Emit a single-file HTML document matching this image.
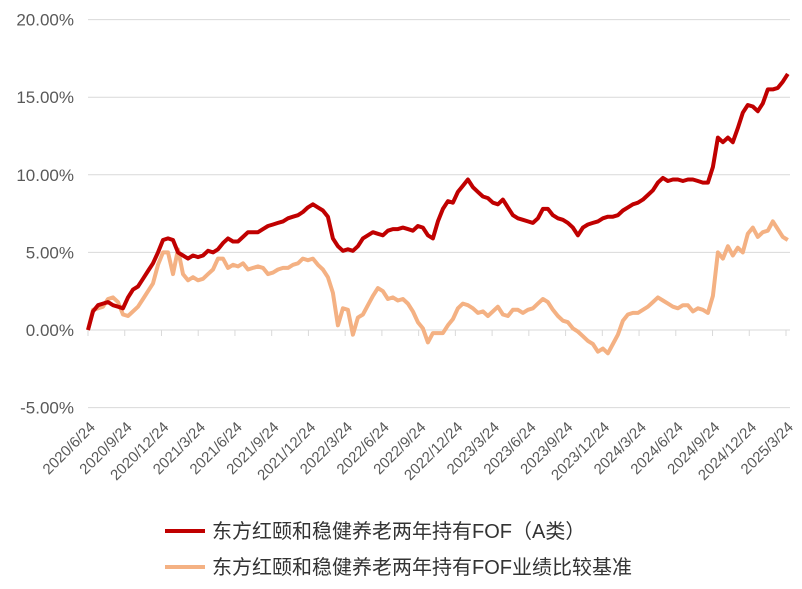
<!DOCTYPE html>
<html><head><meta charset="utf-8"><style>
body{margin:0;background:#fff;}
svg{display:block;font-family:"Liberation Sans","Noto Sans CJK SC",sans-serif;}
</style></head><body>
<svg id="chart" width="802" height="589" viewBox="0 0 802 589">
<g id="grid"></g>
<g id="yaxis"></g>
<g id="xaxis"></g>
<g id="series"></g>
<g>
<line x1="165" y1="531" x2="205" y2="531" stroke="#C00000" stroke-width="4"/>
<text x="212" y="538" font-size="20" fill="#333">东方红颐和稳健养老两年持有FOF（A类）</text>
<line x1="165" y1="567" x2="205" y2="567" stroke="#F4B183" stroke-width="4"/>
<text x="212" y="574" font-size="20" fill="#333">东方红颐和稳健养老两年持有FOF业绩比较基准</text>
</g>
</svg>
<script>
const yTicks=[-5,0,5,10,15,20];
const yTickLabels=["-5.00%","0.00%","5.00%","10.00%","15.00%","20.00%"];
const xTickLabels=["2020/6/24","2020/9/24","2020/12/24","2021/3/24","2021/6/24","2021/9/24","2021/12/24","2022/3/24","2022/6/24","2022/9/24","2022/12/24","2023/3/24","2023/6/24","2023/9/24","2023/12/24","2024/3/24","2024/6/24","2024/9/24","2024/12/24","2025/3/24"];
const fund=[0,1.2,1.6,1.7,1.8,1.6,1.5,1.4,2.1,2.6,2.8,3.3,3.8,4.3,5.0,5.8,5.9,5.8,5.0,4.8,4.6,4.8,4.7,4.8,5.1,5.0,5.2,5.6,5.9,5.7,5.7,6.0,6.3,6.3,6.3,6.5,6.7,6.8,6.9,7.0,7.2,7.3,7.4,7.6,7.9,8.1,7.9,7.7,7.3,5.9,5.4,5.1,5.2,5.1,5.4,5.9,6.1,6.3,6.2,6.1,6.4,6.5,6.5,6.6,6.5,6.4,6.7,6.6,6.1,5.9,7.0,7.8,8.3,8.2,8.9,9.3,9.7,9.2,8.9,8.6,8.5,8.2,8.1,8.4,7.9,7.4,7.2,7.1,7.0,6.9,7.2,7.8,7.8,7.4,7.2,7.1,6.9,6.6,6.1,6.6,6.8,6.9,7.0,7.2,7.3,7.3,7.4,7.7,7.9,8.1,8.2,8.4,8.7,9.0,9.5,9.8,9.6,9.7,9.7,9.6,9.7,9.7,9.6,9.5,9.5,10.5,12.4,12.1,12.4,12.1,13.0,14.0,14.5,14.4,14.1,14.6,15.5,15.5,15.6,16.0,16.5];
const bench=[0,1.3,1.4,1.5,2.0,2.1,1.8,1.0,0.9,1.2,1.5,2.0,2.5,3.0,4.2,5.0,5.0,3.6,5.2,3.6,3.2,3.4,3.2,3.3,3.6,3.9,4.6,4.6,4.0,4.2,4.1,4.3,3.9,4.0,4.1,4.0,3.6,3.7,3.9,4.0,4.0,4.2,4.3,4.6,4.5,4.6,4.2,3.9,3.4,2.4,0.3,1.4,1.3,-0.3,0.8,1.0,1.6,2.2,2.7,2.5,2.0,2.1,1.9,2.0,1.7,1.2,0.5,0.1,-0.8,-0.2,-0.2,-0.2,0.3,0.7,1.4,1.7,1.6,1.4,1.1,1.2,0.9,1.2,1.5,1.0,0.9,1.3,1.3,1.1,1.3,1.4,1.7,2.0,1.8,1.3,0.9,0.6,0.5,0.1,-0.1,-0.4,-0.7,-0.9,-1.4,-1.2,-1.5,-0.9,-0.3,0.6,1.0,1.1,1.1,1.3,1.5,1.8,2.1,1.9,1.7,1.5,1.4,1.6,1.6,1.2,1.4,1.3,1.1,2.2,5.0,4.6,5.4,4.8,5.3,5.0,6.2,6.6,6.0,6.3,6.4,7.0,6.5,6.0,5.8];
const spanQuarters=19.05;
const NS="http://www.w3.org/2000/svg";
const X0=88,X1=786,Y0=330,PX=15.52;
function xq(q){return X0+q*(X1-X0)/19;}
function yv(v){return Y0-v*PX;}
function mk(tag,attrs,parent){const e=document.createElementNS(NS,tag);for(const k in attrs)e.setAttribute(k,attrs[k]);parent.appendChild(e);return e;}
const grid=document.getElementById('grid'),ya=document.getElementById('yaxis'),xa=document.getElementById('xaxis'),ser=document.getElementById('series');
yTicks.forEach((v,i)=>{
 if(v!==0){const l=mk('line',{x1:X0,x2:790,y1:yv(v),y2:yv(v),stroke:'#d9d9d9','stroke-width':1},grid);
 
 }
 const t=mk('text',{x:74,y:yv(v)+6,'text-anchor':'end','font-size':17,fill:'#595959'},ya);
 
 
 t.textContent=yTickLabels[i];
});
const ax=mk('line',{x1:X0,x2:790,y1:Y0,y2:Y0,stroke:'#d9d9d9','stroke-width':1},xa);


xTickLabels.forEach((s,i)=>{
 const x=xq(i);
 const tk=mk('line',{x1:x,x2:x,y1:Y0,y2:Y0+6,stroke:'#d9d9d9'},xa);
 
 
 const tx=x+8,ty=428;
 const t=mk('text',{x:tx,y:ty,'text-anchor':'end','font-size':15,fill:'#595959',transform:`rotate(-45 ${tx} ${ty})`},xa);
 
 
 t.textContent=s;
});
function draw(arr,color,name){
 const n=arr.length;
 const d=arr.map((v,i)=>(i?'L':'M')+xq(i*spanQuarters/(n-1)).toFixed(1)+','+yv(v).toFixed(1)).join('');
 const p=mk('path',{d:d,fill:'none',stroke:color,'stroke-width':4,'stroke-linejoin':'round'},ser);
 
 
}
draw(bench,'#F4B183','benchmark-line');
draw(fund,'#C00000','fund-line');
</script>
</body></html>
